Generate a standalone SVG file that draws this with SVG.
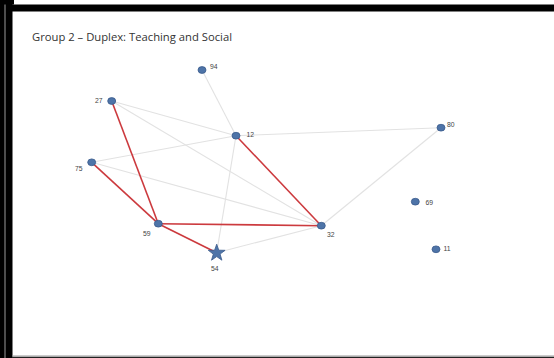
<svg xmlns="http://www.w3.org/2000/svg" width="554" height="358" viewBox="0 0 554 358">
<style>
.node{fill:#4e74a8;stroke:#3a5a8c;stroke-width:0.8}
.lbl{font-family:"Liberation Sans",Arial,sans-serif;font-size:6.8px;fill:#444}
.title{font-family:"Open Sans","Liberation Sans",sans-serif;font-size:10.6px;fill:#333}
.g{stroke:#e2e2e2;stroke-width:1.1;fill:none}
.r{stroke:#cc3a3e;stroke-width:1.6;fill:none}
</style>
<g id="frame">
<rect x="0" y="0" width="554" height="358" fill="#ffffff"/>
<rect x="0" y="0" width="14" height="4.5" fill="#000"/>
<rect x="0" y="0" width="12.5" height="358" fill="#000"/>
<rect x="5" y="4.5" width="549" height="7" fill="#000"/>
<line x1="5" y1="4.5" x2="5" y2="358" stroke="#9a9a9a" stroke-width="1"/>
<line x1="12" y1="356" x2="554" y2="356" stroke="#9a9a9a" stroke-width="1.2"/>
<rect x="12" y="356.8" width="542" height="1.2" fill="#222"/>
</g>
<text class="title" x="32" y="41" textLength="200" lengthAdjust="spacingAndGlyphs">Group 2 – Duplex: Teaching and Social</text>
<g id="connectors">
<line class="g" x1="202" y1="70" x2="236" y2="135.7"/>
<line class="g" x1="111.7" y1="101" x2="236" y2="135.7"/>
<line class="g" x1="111.7" y1="101" x2="321.3" y2="225.7"/>
<line class="g" x1="91.7" y1="162.3" x2="236" y2="135.7"/>
<line class="g" x1="91.7" y1="162.3" x2="321.3" y2="225.7"/>
<line class="g" x1="236" y1="135.7" x2="216.7" y2="252.7"/>
<line class="g" x1="236" y1="135.7" x2="441" y2="127.7"/>
<line class="g" x1="441" y1="127.7" x2="321.3" y2="225.7"/>
<line class="g" x1="216.7" y1="252.7" x2="321.3" y2="225.7"/>
<line class="r" x1="111.7" y1="101" x2="158.3" y2="223.7"/>
<line class="r" x1="91.7" y1="162.3" x2="158.3" y2="223.7"/>
<line class="r" x1="158.3" y1="223.7" x2="321.3" y2="225.7"/>
<line class="r" x1="158.3" y1="223.7" x2="216.7" y2="252.7"/>
<line class="r" x1="236" y1="135.7" x2="321.3" y2="225.7"/>
</g>
<g id="n94"><ellipse class="node" cx="202" cy="70" rx="4" ry="3.4"/><text class="lbl" x="210" y="68.5">94</text></g>
<g id="n27"><ellipse class="node" cx="111.7" cy="101" rx="4" ry="3.4"/><text class="lbl" x="95" y="103">27</text></g>
<g id="n12"><ellipse class="node" cx="236" cy="135.7" rx="4" ry="3.4"/><text class="lbl" x="246.5" y="137">12</text></g>
<g id="n80"><ellipse class="node" cx="441" cy="127.7" rx="4" ry="3.4"/><text class="lbl" x="447" y="126.5">80</text></g>
<g id="n75"><ellipse class="node" cx="91.7" cy="162.3" rx="4" ry="3.4"/><text class="lbl" x="75" y="170.5">75</text></g>
<g id="n69"><ellipse class="node" cx="415.3" cy="201.7" rx="4" ry="3.4"/><text class="lbl" x="425.5" y="204.5">69</text></g>
<g id="n59"><ellipse class="node" cx="158.3" cy="223.7" rx="4" ry="3.4"/><text class="lbl" x="143" y="235.5">59</text></g>
<g id="n32"><ellipse class="node" cx="321.3" cy="225.7" rx="4" ry="3.4"/><text class="lbl" x="327" y="236.5">32</text></g>
<g id="n11"><ellipse class="node" cx="436" cy="249.3" rx="4" ry="3.4"/><text class="lbl" x="443.5" y="250.5">11</text></g>
<g id="n54"><polygon class="node" points="216.7,244.2 218.8,250.2 225.1,250.3 220.1,254.1 221.9,260.2 216.7,256.6 211.5,260.2 213.3,254.1 208.3,250.3 214.6,250.2"/><text class="lbl" x="211" y="270.5">54</text></g>
</svg>
